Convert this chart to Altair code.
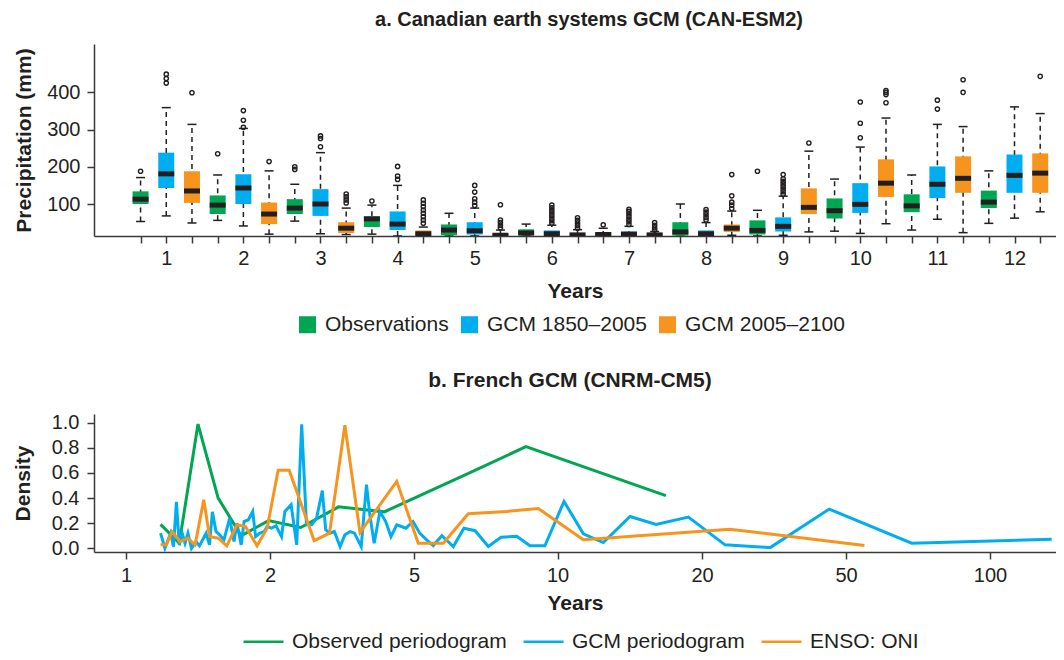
import altair as alt
import pandas as pd

# ---------------- panel a data (precipitation, mm) ----------------
series_names = ["Observations", "GCM 1850–2005", "GCM 2005–2100"]
box_colors = ["#00a651", "#00aeef", "#f7941d"]
months = list(range(1, 13))

obs_lo = [53, 56, 54, 19, 14, 14, 14, 14, 14, 27, 30, 48]
obs_q1 = [100, 73, 73, 38, 16, 16, 14, 15, 18, 61, 78, 89]
obs_med = [113, 97, 89, 60, 30, 22, 18, 25, 29, 82, 95, 105]
obs_q3 = [134, 123, 113, 67, 45, 32, 24, 51, 56, 115, 126, 136]
obs_hi = [171, 178, 153, 97, 75, 46, 35, 100, 83, 167, 178, 189]
obs_out = [[188], [235], [193, 200], [108], [], [], [44], [], [188], [], [], []]

hist_lo = [68, 41, 20, 14, 14, 14, 14, 14, 16, 21, 59, 62]
hist_q1 = [143, 100, 68, 30, 18, 14, 14, 14, 26, 76, 116, 130]
hist_med = [181, 143, 100, 46, 28, 20, 19, 20, 40, 99, 153, 177]
hist_q3 = [238, 180, 140, 80, 51, 29, 26, 29, 64, 156, 201, 233]
hist_hi = [359, 303, 238, 150, 89, 43, 40, 50, 121, 253, 314, 361]
hist_out = [[425, 437, 449], [306, 325, 351], [254, 276, 283], [166, 175, 201],
            [96, 105, 114, 132, 150], [48, 55, 62, 69, 76, 83, 90, 97],
            [45, 52, 59, 66, 73, 80, 86], [57, 64, 71, 78, 85],
            [126, 133, 140, 147, 154, 161, 168, 179], [278, 317, 374], [355, 379], []]

fut_lo = [49, 19, 18, 14, 14, 14, 14, 16, 25, 47, 23, 79]
fut_q1 = [103, 46, 22, 14, 14, 14, 14, 25, 73, 119, 130, 130]
fut_med = [135, 73, 35, 20, 16, 17, 17, 35, 91, 156, 169, 183]
fut_q3 = [188, 104, 51, 29, 21, 21, 22, 45, 142, 220, 228, 236]
fut_hi = [314, 189, 89, 38, 30, 31, 26, 81, 242, 331, 308, 343]
fut_out = [[399], [214], [103, 111, 119, 127], [48, 57, 66, 75, 84, 93, 102, 111],
           [36, 43, 50, 57, 98], [35, 42, 49, 56, 63], [30, 36, 43, 50],
           [88, 97, 105, 122, 179], [264], [372, 394, 400, 405], [400, 434], [443]]

# ---------------- panel b data (period in years, density) ----------------
obs_period = [1.24, 1.37, 1.50, 1.64, 1.80, 1.99, 2.64, 3.43, 4.38, 6.84, 8.9, 17.5]
obs_density = [0.19, 0.04, 0.99, 0.40, 0.10, 0.22, 0.165, 0.33, 0.29, 0.59, 0.81, 0.42]

gcm_period = [1.24, 1.27, 1.31, 1.33, 1.35, 1.37, 1.39, 1.41, 1.43, 1.455, 1.486, 1.51,
              1.556, 1.58, 1.60, 1.625, 1.65, 1.68, 1.72, 1.75, 1.77, 1.80, 1.82, 1.85,
              1.88, 1.90, 1.93, 1.96, 1.98, 2.035, 2.125, 2.24, 2.31, 2.44, 2.556, 2.66,
              2.76, 2.87, 2.97, 3.09, 3.16, 3.25, 3.34, 3.46, 3.56, 3.67, 3.76, 3.90,
              4.01, 4.08, 4.17, 4.29, 4.41, 4.52, 4.64, 4.74, 4.83, 4.98, 5.2, 5.44,
              5.67, 5.97, 6.37, 6.74, 7.13, 7.59, 8.03, 8.58, 9.04, 9.56, 10.45, 11.79,
              13.17, 15.02, 16.82, 19.06, 24.8, 34.2, 46.5, 72.8, 121.4]
gcm_density = [0.12, 0.0, 0.12, 0.013, 0.37, 0.027, 0.12, 0.04, 0.12, 0.0, 0.053, 0.019,
               0.12, 0.027, 0.29, 0.133, 0.107, 0.067, 0.24, 0.053, 0.2, 0.027, 0.213, 0.227,
               0.293, 0.093, 0.12, 0.133, 0.173, 0.16, 0.179, 0.093, 0.293, 0.347, 0.027, 0.987,
               0.187, 0.187, 0.24, 0.459, 0.147, 0.12, 0.133, 0.013, 0.107, 0.133, 0.12, 0.013,
               0.507, 0.267, 0.04, 0.293, 0.213, 0.093, 0.187, 0.173, 0.16, 0.213, 0.12, 0.067,
               0.021, 0.10, 0.013, 0.16, 0.14, 0.015, 0.088, 0.095, 0.02, 0.02, 0.373, 0.115,
               0.045, 0.253, 0.189, 0.248, 0.027, 0.005, 0.312, 0.04, 0.072]

enso_period = [1.24, 1.28, 1.32, 1.375, 1.43, 1.48, 1.54, 1.58, 1.64, 1.70, 1.77, 1.83,
               1.91, 1.98, 2.17, 2.40, 2.92, 3.24, 3.56, 3.875, 4.64, 5.15, 6.02, 6.89,
               8.23, 9.33, 11.79, 25.8, 56.4]
enso_density = [0.027, 0.027, 0.133, 0.053, 0.08, 0.027, 0.387, 0.093, 0.08, 0.019, 0.187, 0.173,
                0.019, 0.16, 0.621, 0.621, 0.061, 0.12, 0.981, 0.125, 0.533, 0.04, 0.04, 0.275,
                0.293, 0.317, 0.067, 0.152, 0.021]

line_names = ["Observed periodogram", "GCM periodogram", "ENSO: ONI"]
line_colors = ["#00a651", "#00aeef", "#f7941d"]

INK = "#231f20"
FONT = "Liberation Sans"

# ---------------- tables ----------------
box_rows, out_rows, cap_rows = [], [], []
stats = [
    (obs_lo, obs_q1, obs_med, obs_q3, obs_hi, obs_out),
    (hist_lo, hist_q1, hist_med, hist_q3, hist_hi, hist_out),
    (fut_lo, fut_q1, fut_med, fut_q3, fut_hi, fut_out),
]
for k, (lo, q1, med, q3, hi, outs) in enumerate(stats):
    for i, m in enumerate(months):
        pos = (m - 1) * 3 + k + 1
        box_rows.append(dict(series=series_names[k], pos=pos, lo=lo[i], q1=q1[i],
                             med=med[i], q3=q3[i], hi=hi[i]))
        cap_rows.append(dict(pos=pos, value=lo[i]))
        cap_rows.append(dict(pos=pos, value=hi[i]))
        for v in outs[i]:
            out_rows.append(dict(pos=pos, value=v))
boxes = pd.DataFrame(box_rows)
caps = pd.DataFrame(cap_rows)
outl = pd.DataFrame(out_rows)

lines = pd.concat([
    pd.DataFrame(dict(series=line_names[0], period=obs_period, density=obs_density)),
    pd.DataFrame(dict(series=line_names[1], period=gcm_period, density=gcm_density)),
    pd.DataFrame(dict(series=line_names[2], period=enso_period, density=enso_density)),
], ignore_index=True)

# ---------------- panel a ----------------
x_top_scale = alt.Scale(domain=[-0.617, 36.42], nice=False, zero=False)
x_top_axis = alt.Axis(values=list(range(1, 37)),
                      labelExpr="datum.value % 3 == 2 ? format((datum.value + 1) / 3, 'd') : ''",
                      title="Years", labelPadding=5, titlePadding=12,
                      labelFlush=False, labelOverlap=False)
y_top_scale = alt.Scale(domain=[14, 530], nice=False, zero=False)
y_top_axis = alt.Axis(values=[100, 200, 300, 400], title="Precipitation (mm)",
                      labelPadding=7, titlePadding=12)

def xt():
    return alt.X("pos:Q", scale=x_top_scale, axis=x_top_axis)

def yt(field):
    return alt.Y(f"{field}:Q", scale=y_top_scale, axis=y_top_axis, title="Precipitation (mm)")

whisk = alt.Chart(boxes).mark_rule(color=INK, strokeWidth=1.5, strokeDash=[5, 4], clip=True).encode(
    x=xt(), y=yt("lo"), y2="hi")
capm = alt.Chart(caps).mark_tick(orient="horizontal", size=9, thickness=1.5, color=INK,
                                 opacity=1, clip=True).encode(x=xt(), y=yt("value"))
bars = alt.Chart(boxes).mark_bar(size=16, clip=True, opacity=1).encode(
    x=xt(), y=yt("q1"), y2="q3",
    color=alt.Color("series:N",
                    scale=alt.Scale(domain=series_names, range=box_colors),
                    legend=alt.Legend(orient="none", direction="horizontal", title=None,
                                      legendX=203, legendY=270,
                                      symbolType="square", symbolSize=289, symbolStrokeWidth=0,
                                      symbolOpacity=1, labelLimit=400,
                                      labelFontSize=21, labelFont=FONT, labelColor=INK,
                                      labelOffset=7, columnPadding=10)))
medm = alt.Chart(boxes).mark_tick(orient="horizontal", size=16, thickness=5, color=INK,
                                  opacity=1, clip=True).encode(x=xt(), y=yt("med"))
outm = alt.Chart(outl).mark_point(filled=False, size=18, strokeWidth=1.4, color=INK, opacity=1,
                                  clip=True).encode(x=xt(), y=yt("value"))

top = alt.layer(whisk, capm, bars, medm, outm).properties(
    width=962, height=192,
    title=alt.Title("a. Canadian earth systems GCM (CAN-ESM2)", frame="group", anchor="middle",
                    dx=14, offset=14)
)

# ---------------- panel b ----------------
x_bot = alt.X("period:Q",
              scale=alt.Scale(type="linear",
                              domain=[0.778, 1, 2, 5, 10, 20, 50, 100, 122.9],
                              range=[0, 32, 176, 320, 463.5, 608, 752, 896, 962],
                              nice=False, zero=False),
              axis=alt.Axis(values=[1, 2, 5, 10, 20, 50, 100], format="d", title="Years",
                            labelPadding=6, titlePadding=7, labelFlush=False))
y_bot = alt.Y("density:Q", scale=alt.Scale(domain=[-0.03, 1.07], nice=False, zero=False),
              axis=alt.Axis(values=[0, 0.2, 0.4, 0.6, 0.8, 1.0], format=".1f", title="Density",
                            labelPadding=8, titlePadding=18))
col_bot = alt.Color("series:N",
                    scale=alt.Scale(domain=line_names, range=line_colors),
                    legend=alt.Legend(orient="none", direction="horizontal", title=None,
                                      legendX=148, legendY=206,
                                      symbolType="stroke", symbolSize=1600, symbolStrokeWidth=2.5,
                                      labelFontSize=21, labelFont=FONT, labelColor=INK,
                                      labelLimit=400, labelOffset=7, columnPadding=11))

line_layers = []
for nm in line_names:
    line_layers.append(
        alt.Chart(lines).transform_filter(alt.datum.series == nm)
        .mark_line(strokeWidth=3, clip=True)
        .encode(x=x_bot, y=y_bot, color=col_bot)
    )
bottom = alt.layer(*line_layers).properties(
    width=962, height=138,
    title=alt.Title("b. French GCM (CNRM-CM5)", frame="group", anchor="middle",
                    dx=-5, offset=22, fontSize=21)
)

chart = (
    alt.vconcat(top, bottom, spacing=34)
    .resolve_scale(color="independent")
    .resolve_legend(color="independent")
    .properties(padding={"left": 4, "right": 0, "top": 2, "bottom": 0})
    .configure(font=FONT)
    .configure_view(stroke=None)
    .configure_axis(labelFont=FONT, labelFontSize=20, labelColor=INK,
                    titleFont=FONT, titleFontSize=21, titleFontWeight="bold", titleColor=INK,
                    domainColor="#3a3a3a", domainWidth=1.5, tickColor="#3a3a3a", tickWidth=1.5,
                    tickSize=7, grid=False)
    .configure_title(font=FONT, fontSize=20, fontWeight="bold", color=INK)
)

chart.save("out.html", embed_options={"renderer": "svg", "actions": False})
